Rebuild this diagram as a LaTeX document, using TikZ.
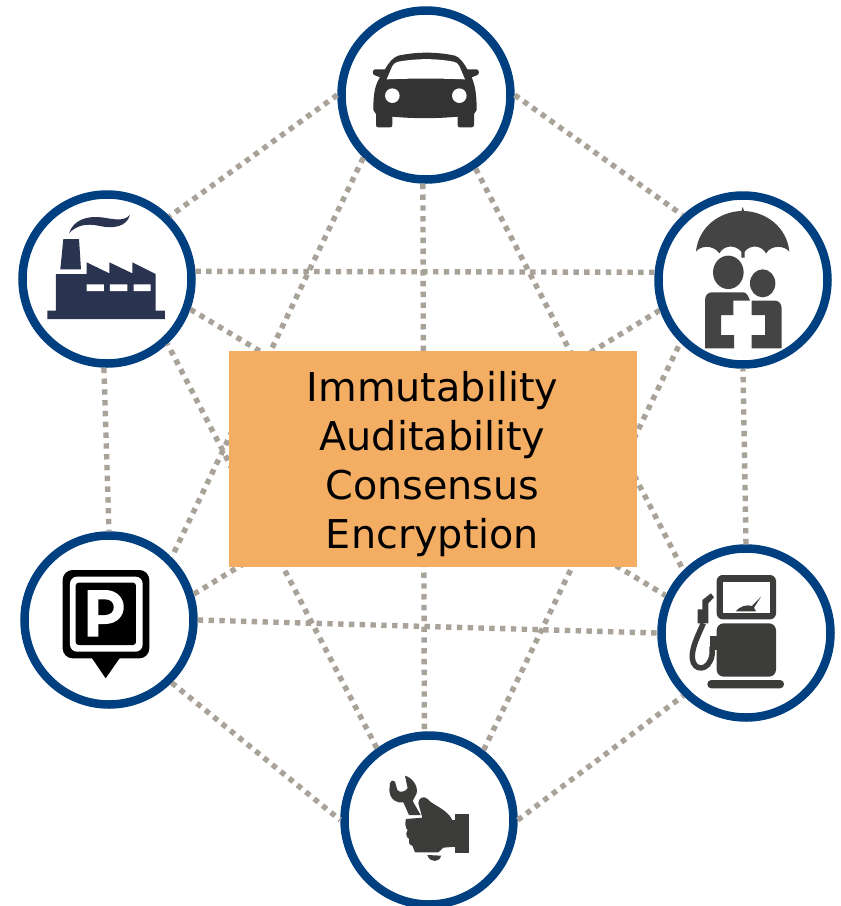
\documentclass[tikz,border=0pt]{standalone}
\usepackage{fontspec}
\setmainfont{DejaVu Sans}
\definecolor{ring}{HTML}{004080}
\definecolor{dotc}{HTML}{A9A299}
\definecolor{boxc}{HTML}{F4AE63}
\definecolor{cardk}{HTML}{333333}
\definecolor{insdk}{HTML}{444444}
\definecolor{iconc}{HTML}{3C3C3B}
\definecolor{facc}{HTML}{2A3350}
\tikzset{
  hub/.style={circle,draw=ring,line width=8.5pt,fill=white,minimum size=169pt,inner sep=0pt},
  link/.style={draw=dotc,line width=5.4pt,dash pattern=on 5.4pt off 5.4pt},
  core/.style={fill=boxc,minimum width=408pt,minimum height=216pt,inner sep=0pt},
  coretext/.style={inner sep=0pt,align=center,font=\fontsize{39.7pt}{49.3pt}\selectfont},
  zoomed/.style={x=0.33333pt,y=-0.33333pt}
}
\begin{document}
\begin{tikzpicture}[x=1pt,y=-1pt]
\useasboundingbox (0,0) rectangle (841,906);
\node[hub] (car) at (426,95) {};
\node[hub] (ins) at (743,280) {};
\node[hub] (gas) at (746,633) {};
\node[hub] (fix) at (429,820) {};
\node[hub] (prk) at (109,620) {};
\node[hub] (fac) at (107,279) {};
\path[link] (car.east) -- (ins.133);
\path[link] (car.west) -- (fac.45);
\path[link] (fac.268) -- (prk.north);
\path[link] (prk.315) -- (fix.west);
\path[link] (fix.east) -- (gas.225);
\path[link] (gas.north) -- (ins.south);
\path[link] (fac.5) -- (ins.175);
\path[link] (prk.east) -- (gas.west);
\path[link] (car.268) -- (fix.93);
\path[link] (car.225) -- (prk.45);
\path[link] (car.304) -- (gas.135);
\path[link] (fix.126) -- (fac.313);
\path[link] (fix.52) -- (ins.225);
\path[link] (fac.340) -- (gas.155);
\path[link] (prk.17) -- (ins.200);
\node[core] (centre) at (433,459) {};
\node[coretext] (centretext) at (432.5,464) {Immutability\\Auditability\\Consensus\\Encryption};
% car
\begin{scope}[shift={(330,0)},zoomed]
\fill[cardk] (165,208) .. controls (178,185) and (190,172) .. (205,167) .. controls (260,155) and (320,155) .. (375,167) .. controls (390,172) and (402,190) .. (412,208) -- (440,208) .. controls (449,210) and (449,224) .. (440,226) -- (425,232) .. controls (435,255) and (440,280) .. (440,330) -- (432,342) -- (432,375) .. controls (432,380) and (428,382) .. (425,382) -- (390,382) .. controls (386,382) and (383,380) .. (383,375) -- (383,350) .. controls (320,356) and (250,356) .. (187,350) -- (187,375) .. controls (187,380) and (184,382) .. (180,382) -- (145,382) .. controls (141,382) and (138,380) .. (138,375) -- (138,342) -- (130,330) .. controls (130,280) and (135,255) .. (150,232) -- (135,226) .. controls (126,224) and (126,210) .. (135,208) -- cycle;
\fill[white] (170,238) -- (187,198) .. controls (192,190) and (198,186) .. (205,185) .. controls (260,175) and (320,175) .. (370,185) .. controls (378,186) and (384,190) .. (388,198) -- (405,238) .. controls (330,235) and (245,235) .. (170,238) -- cycle;
\fill[white] (187,287) circle[radius=7.3pt] (388,287) circle[radius=7.3pt];
\end{scope}
% insurance
\begin{scope}[shift={(650,185)},zoomed]
\fill[insdk] (138,200) .. controls (145,125) and (210,80) .. (274,78) -- (278,66) -- (282,78) .. controls (346,80) and (411,125) .. (418,200) .. controls (405,182) and (365,178) .. (348,205) .. controls (335,180) and (300,178) .. (284,200) -- (284,218) -- (274,218) -- (274,200) .. controls (255,178) and (222,180) .. (208,205) .. controls (190,178) and (150,182) .. (138,200) -- cycle;
\fill[insdk] (235,262) ellipse[x radius=15.3pt,y radius=16.7pt];
\fill[insdk] (338,295) ellipse[x radius=12.7pt,y radius=14pt];
\fill[insdk] (165,490) -- (165,345) .. controls (165,330) and (175,322) .. (185,322) -- (280,322) .. controls (290,322) and (296,335) .. (300,347) -- (250,347) -- (250,390) -- (213,390) -- (213,450) -- (252,450) -- (252,490) -- cycle;
\fill[insdk] (305,347) -- (375,347) .. controls (388,347) and (395,358) .. (395,370) -- (395,490) -- (305,490) -- (305,450) -- (345,450) -- (345,390) -- (305,390) -- cycle;
\end{scope}
% fuel pump
\begin{scope}[shift={(650,540)},zoomed]
\fill[iconc,rounded corners=6pt] (200,105) rectangle (378,238);
\fill[white] (218,125) rectangle (360,220);
\fill[iconc] (257,214) .. controls (268,200) and (290,192) .. (306,198) -- (333,170) -- (312,203) -- (318,214) -- cycle;
\fill[iconc,rounded corners=7pt] (200,250) rectangle (378,410);
\fill[iconc,rounded corners=4pt] (172,420) rectangle (402,445);
\fill[iconc] (180,287) rectangle (200,330);
\fill[iconc] (143,208) -- (157,208) -- (157,180) -- (183,160) -- (192,172) -- (175,190) -- (175,250) -- (143,250) -- cycle;
\draw[iconc,line width=5.5pt] (160,250) .. controls (140,295) and (125,325) .. (127,355) .. controls (130,395) and (178,395) .. (186,345) -- (186,320);
\end{scope}
% wrench hand
\begin{scope}[shift={(335,725)},zoomed]
\fill[iconc] (360,268) rectangle (403,385);
\fill[iconc] (213,282) -- (262,278) -- (250,235) .. controls (250,220) and (265,210) .. (278,222) .. controls (290,240) and (335,250) .. (352,285) -- (362,285) -- (362,365) -- (325,368) -- (310,382) -- (240,382) -- (232,362) .. controls (222,360) and (220,350) .. (222,342) .. controls (212,335) and (212,322) .. (218,316) .. controls (210,308) and (210,292) .. (213,282) -- cycle;
\fill[iconc] (277,390) -- (318,392) .. controls (315,412) and (285,415) .. (277,390) -- cycle;
\fill[iconc] (165,175) .. controls (168,165) and (178,165) .. (180,170) -- (187,195) .. controls (195,205) and (210,200) .. (218,190) -- (210,152) .. controls (230,158) and (250,180) .. (245,205) -- (233,228) -- (257,270) -- (222,270) -- (205,232) .. controls (185,235) and (165,225) .. (163,195) -- cycle;
\end{scope}
% parking
\begin{scope}[shift={(15,525)},zoomed]
\fill[black,rounded corners=10pt] (143,135) rectangle (403,400);
\fill[black] (230,398) -- (272,460) -- (315,398) -- cycle;
\fill[white,rounded corners=7pt] (165,155) rectangle (383,380);
\fill[black,rounded corners=3pt] (182,173) rectangle (363,360);
\fill[white] (218,195) -- (270,195) .. controls (345,195) and (345,297) .. (270,297) -- (250,297) -- (250,335) -- (218,335) -- cycle;
\fill[black] (250,223) -- (270,223) .. controls (305,223) and (305,270) .. (270,270) -- (250,270) -- cycle;
\end{scope}
% factory
\begin{scope}[shift={(15,185)},zoomed]
\fill[facc] (97,377) -- (123,377) -- (123,267) -- (215,267) -- (215,232) -- (283,265) -- (283,232) -- (352,265) -- (352,232) -- (422,267) -- (422,377) -- (450,377) -- (450,402) -- (97,402) -- cycle;
\fill[facc] (145,162) -- (192,162) -- (198,253) -- (136,253) -- cycle;
\fill[white] (215,298) rectangle (267,318) (285,298) rectangle (337,318) (356,298) rectangle (407,318);
\fill[facc] (162,145) .. controls (175,105) and (215,92) .. (260,97) .. controls (300,103) and (325,110) .. (345,90) .. controls (335,125) and (295,133) .. (250,122) .. controls (215,115) and (185,120) .. (162,145) -- cycle;
\end{scope}
\end{tikzpicture}
\end{document}
